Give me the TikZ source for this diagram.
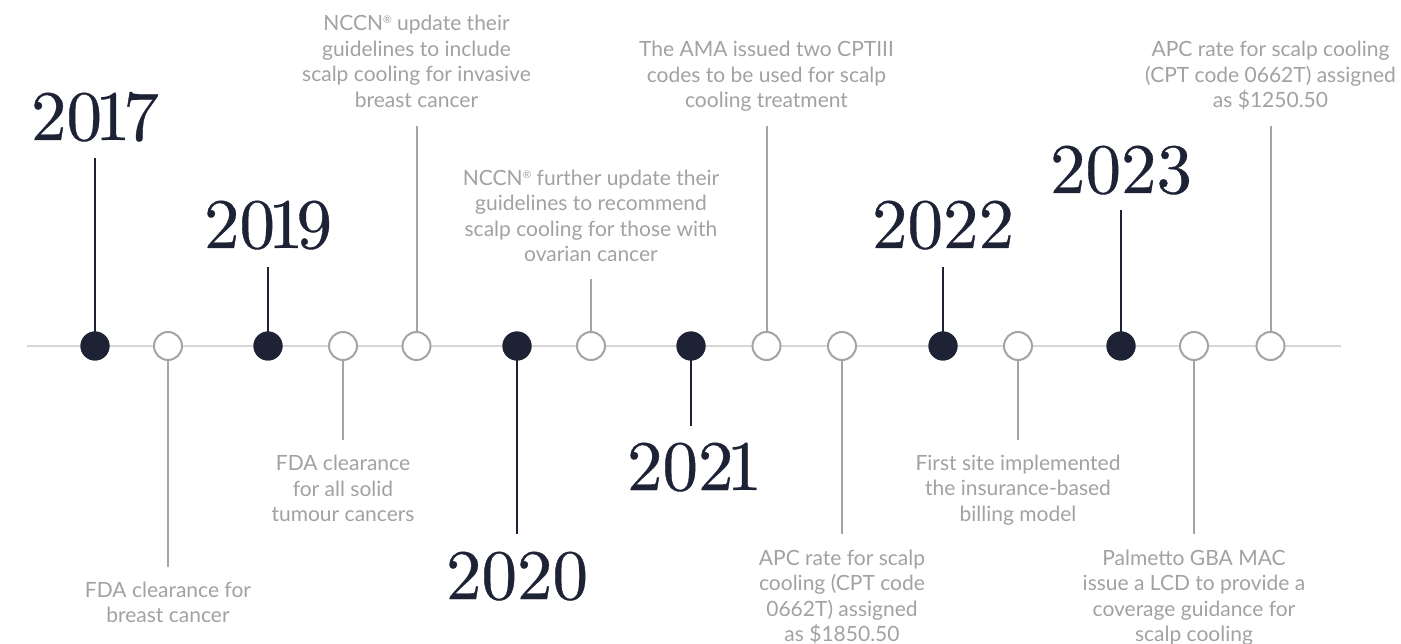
\documentclass[tikz,border=0pt]{standalone}
\usepackage{fontspec}
\setsansfont{Lato}
\newfontfamily\yearfont{lmroman10-regular.otf}[FakeBold=0.5]
\definecolor{navy}{RGB}{29,34,53}
\definecolor{notegrey}{RGB}{162,162,162}
\definecolor{stemgrey}{RGB}{164,164,164}
\definecolor{axisgrey}{RGB}{214,214,214}
\newcommand\regmark{\raisebox{7pt}{\fontsize{10.5}{10.5}\selectfont ®}}
% proportional-width "1" for the year figures
\newcommand\one{\kern-7pt1\kern-7pt}
\tikzset{
  axis/.style={draw=axisgrey, line width=2pt},
  fulldot/.style={circle, fill=navy, minimum size=29pt, inner sep=0pt},
  opendot/.style={circle, draw=stemgrey, line width=2pt, fill=white, minimum size=28pt, inner sep=0pt},
  darkstem/.style={draw=navy, line width=2.8pt},
  greystem/.style={draw=stemgrey, line width=2pt},
  year/.style={anchor=base, inner sep=0pt, text=navy, font=\yearfont\fontsize{71}{71}\selectfont},
  note/.style={anchor=base, inner sep=0pt, align=center, text=notegrey, font=\sffamily\fontsize{21}{25.5}\selectfont},
}
\begin{document}
\begin{tikzpicture}[x=1pt, y=-1pt]
\useasboundingbox (0,0) rectangle (1401,644);
\fill[white] (0,0) rectangle (1401,644);

% the time axis
\coordinate (axisL) at (27,346);
\coordinate (axisR) at (1341,346);
\draw[axis] (axisL) -- (axisR);

% year markers
\node[fulldot] (d17) at (95,346) {};
\node[fulldot] (d19) at (268,346) {};
\node[fulldot] (d20) at (517,346) {};
\node[fulldot] (d21) at (691,346) {};
\node[fulldot] (d22) at (943,346) {};
\node[fulldot] (d23) at (1121,346) {};

% event markers
\node[opendot] (e1) at (168,346) {};
\node[opendot] (e2) at (343,346) {};
\node[opendot] (e3) at (416.5,346) {};
\node[opendot] (e4) at (591,346) {};
\node[opendot] (e5) at (766.5,346) {};
\node[opendot] (e6) at (842,346) {};
\node[opendot] (e7) at (1018,346) {};
\node[opendot] (e8) at (1194,346) {};
\node[opendot] (e9) at (1270.5,346) {};

% stem ends
\coordinate (s17) at (95,158);
\coordinate (s19) at (268,267);
\coordinate (s20) at (517,534);
\coordinate (s21) at (691,426);
\coordinate (s22) at (943,267);
\coordinate (s23) at (1121,210);
\coordinate (t1) at (168,567);
\coordinate (t2) at (343,440);
\coordinate (t3) at (416.5,126);
\coordinate (t4) at (591,279);
\coordinate (t5) at (766.5,126);
\coordinate (t6) at (842,534);
\coordinate (t7) at (1018,440);
\coordinate (t8) at (1194,534);
\coordinate (t9) at (1270.5,126);

\draw[darkstem] (d17.center) -- (s17);
\draw[darkstem] (d19.center) -- (s19);
\draw[darkstem] (d20.center) -- (s20);
\draw[darkstem] (d21.center) -- (s21);
\draw[darkstem] (d22.center) -- (s22);
\draw[darkstem] (d23.center) -- (s23);
\draw[greystem] (e1.south) -- (t1);
\draw[greystem] (e2.south) -- (t2);
\draw[greystem] (e3.north) -- (t3);
\draw[greystem] (e4.north) -- (t4);
\draw[greystem] (e5.north) -- (t5);
\draw[greystem] (e6.south) -- (t6);
\draw[greystem] (e7.south) -- (t7);
\draw[greystem] (e8.south) -- (t8);
\draw[greystem] (e9.north) -- (t9);

% redraw the dots over the stems
\foreach \n in {d17,d19,d20,d21,d22,d23}{\fill[navy] (\n) circle (14.5pt);}

% years
\node[year] (y17) at (95,140) {20\one7};
\node[year] (y19) at (268,248) {20\one9};
\node[year] (y20) at (517,599) {2020};
\node[year] (y21) at (691,490) {202\one};
\node[year] (y22) at (943,248) {2022};
\node[year] (y23) at (1121,193) {2023};

% event notes (anchored on the baseline of the last line)
\node[note] (n1) at (168,622.5) {FDA clearance for\\breast cancer};
\node[note] (n2) at (343,521.5) {FDA clearance\\for all solid\\tumour cancers};
\node[note] (n3) at (416.5,107.5) {NCCN\regmark{} update their\\guidelines to include\\scalp cooling for invasive\\breast cancer};
\node[note] (n4) at (591,262) {NCCN\regmark{} further update their\\guidelines to recommend\\scalp cooling for those with\\ovarian cancer};
\node[note] (n5) at (766.5,108) {The AMA issued two CPTIII\\codes to be used for scalp\\cooling treatment};
\node[note] (n6) at (842,641.5) {APC rate for scalp\\cooling (CPT code\\0662T) assigned\\as \$1850.50};
\node[note] (n7) at (1018,521) {First site implemented\\the insurance-based\\billing model};
\node[note] (n8) at (1194,641.5) {Palmetto GBA MAC\\issue a LCD to provide a\\coverage guidance for\\scalp cooling};
\node[note] (n9) at (1270.5,108) {APC rate for scalp cooling\\(CPT code 0662T) assigned\\as \$1250.50};
\end{tikzpicture}
\end{document}
